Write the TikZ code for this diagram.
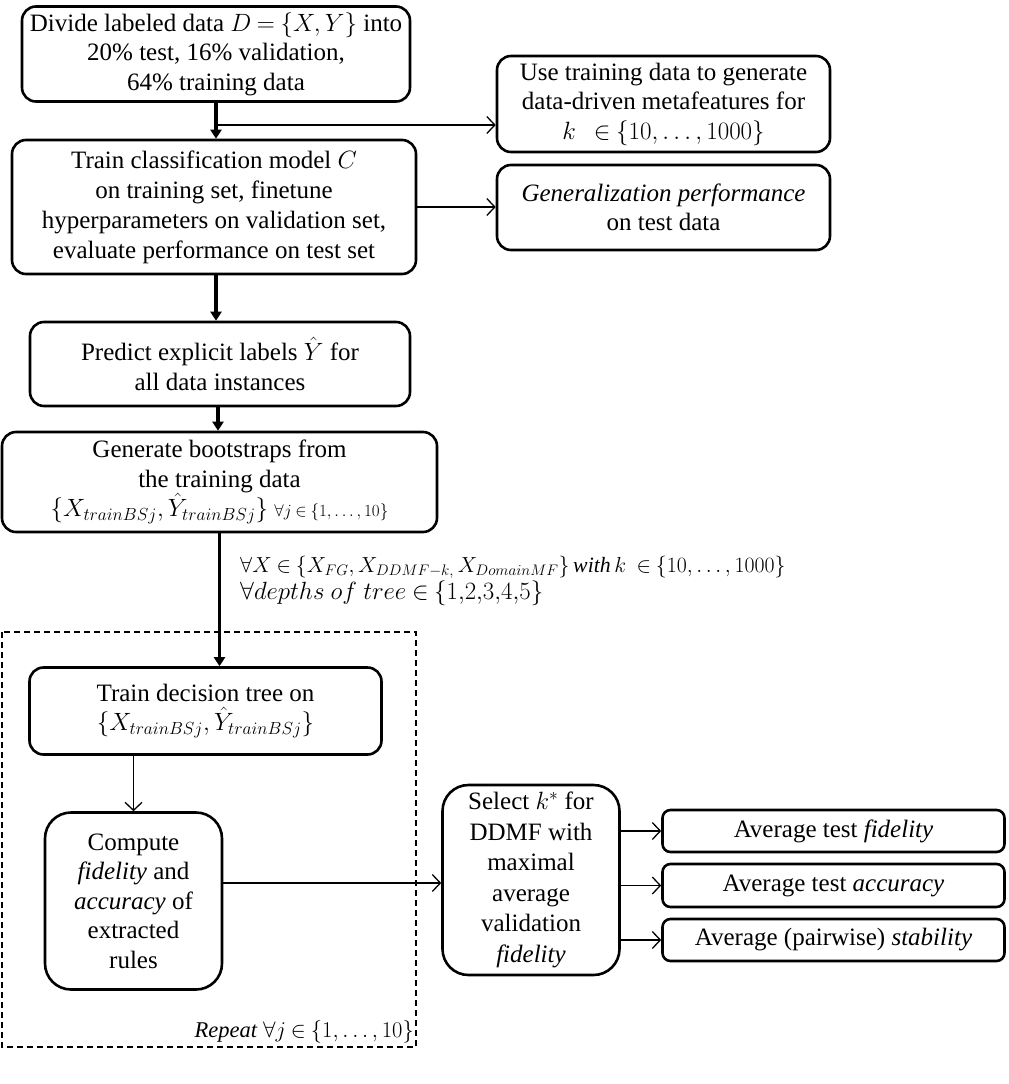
\RequirePackage{fix-cm}
\documentclass[tikz,border=0pt]{standalone}
\usepackage{fontspec}
\setmainfont{Liberation Serif}
\usetikzlibrary{arrows.meta}
\begin{document}
\thickmuskip=4mu plus 2mu
\medmuskip=3mu plus 1mu
\begin{tikzpicture}[x=1pt,y=-1pt,
  box/.style={draw, line width=2.6pt, rounded corners=14pt, align=center, inner sep=2pt,
    font=\fontsize{25}{29.5}\selectfont},
  bigbox/.style={box, rounded corners=26pt},
  thinarrow/.style={line width=1.3pt, -{Straight Barb[length=8pt,width=17pt,line width=1.3pt]}},
  thickarrow/.style={line width=3.2pt, -{Triangle[length=9pt,width=11pt]}},
  lbl/.style={font=\fontsize{24.9}{27}\selectfont, align=left, inner sep=0pt}
]
\useasboundingbox (0,0) rectangle (1009,1084);

\node[box, minimum width=388pt, minimum height=95pt] (b1) at (216,54)
  {Divide labeled data $D=\{X,Y\}$ into\\20\% test, 16\% validation,\\64\% training data};
\node[box, minimum width=333pt, minimum height=96pt] (b2) at (663.5,104)
  {Use training data to generate\\data-driven metafeatures for\\$k\ \ \in\{10,\dots,1000\}$};
\node[box, minimum width=404pt, minimum height=134pt, font=\fontsize{25}{30}\selectfont] (b3) at (214,207)
  {Train classification model $C$\\on training set, finetune\\hyperparameters on validation set,\\evaluate performance on test set};
\node[box, minimum width=333pt, minimum height=85pt] (b4) at (663.5,207.5)
  {\textit{Generalization performance}\\on test data};
\node[box, minimum width=380pt, minimum height=84pt] (b5) at (220,364)
  {Predict explicit labels $\hat{Y}$ for\\all data instances};
\node[box, minimum width=435pt, minimum height=100pt] (b6) at (219.5,482)
  {Generate bootstraps from\\the training data\\$\Bigl\{X_{trainBSj},\hat{Y}_{trainBSj}\Bigr\}$ {\fontsize{17}{18}\selectfont$\forall j\in\{1,\dots,10\}$}};

\draw[dashed, line width=1.5pt, dash pattern=on 6pt off 4pt] (2,632) rectangle (416,1047);

\node[box, minimum width=352pt, minimum height=87pt] (b7) at (205.5,711)
  {Train decision tree on\\$\Bigl\{X_{trainBSj},\hat{Y}_{trainBSj}\Bigr\}$};
\node[bigbox, minimum width=177pt, minimum height=177pt] (b8) at (133.5,901)
  {Compute\\\textit{fidelity} and\\\textit{accuracy} of\\extracted\\rules};
\node[bigbox, minimum width=177pt, minimum height=190pt, font=\fontsize{25}{30.5}\selectfont] (b9) at (531,880)
  {Select $k^{*}$ for\\DDMF with\\maximal\\average\\validation\\\textit{fidelity}};
\node[box, rounded corners=8pt, minimum width=342pt, minimum height=42pt] (b10) at (833.5,831)
  {Average test \textit{fidelity}};
\node[box, rounded corners=8pt, minimum width=342pt, minimum height=43pt] (b11) at (833.5,885.5)
  {Average test \textit{accuracy}};
\node[box, rounded corners=8pt, minimum width=342pt, minimum height=42pt] (b12) at (833.5,940)
  {Average (pairwise) \textit{stability}};

\node[lbl, anchor=west] (lab) at (240,581)
  {{\fontsize{21.8}{27}\selectfont$\forall X\in\Bigl\{X_{FG},X_{DDMF-k,}\,X_{DomainMF}\Bigr\}\,\mathit{with}\,k\ \in\{10,\dots,1000\}$}\\
   $\forall depths\ of\ tree\in\{1{,}2{,}3{,}4{,}5\}$};
\node[font=\fontsize{22.5}{26}\selectfont, anchor=south east, inner sep=0pt] (rep) at (414,1043)
  {\textit{Repeat} $\forall j\in\{1,\dots,10\}$};

% connectors
\coordinate (br) at (216,125);
\draw[thickarrow] (b1.south) -- (b1.south |- b3.north);
\draw[thinarrow] (br) -- (br -| b2.west);
\draw[thinarrow] (b3.east) -- (b3.east -| b4.west);
\draw[thickarrow] ([xshift=2pt]b3.south) -- ([xshift=2pt]b3.south |- b5.north);
\draw[thickarrow] ([xshift=-2pt]b5.south) -- ([xshift=-2pt]b5.south |- b6.north);
\draw[thickarrow] (b6.south) -- (b6.south |- b7.north);
\draw[thinarrow] (b8.north |- b7.south) -- (b8.north);
\draw[thinarrow] ([yshift=18pt]b8.east) -- ([yshift=18pt]b8.east -| b9.west);
\draw[thinarrow] (b9.east |- b10.west) -- (b10.west);
\draw[thinarrow] (b9.east |- b11.west) -- (b11.west);
\draw[thinarrow] (b9.east |- b12.west) -- (b12.west);
\end{tikzpicture}
\end{document}
